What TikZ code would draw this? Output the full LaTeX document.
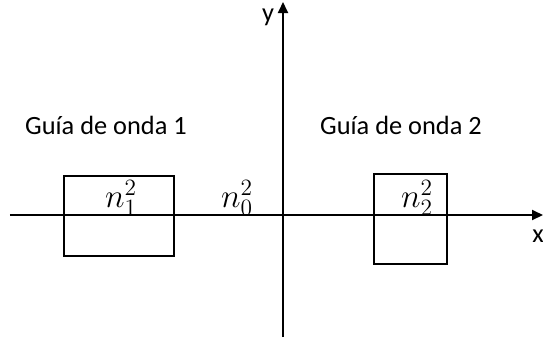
\RequirePackage{fix-cm}
\documentclass[tikz,border=0pt]{standalone}
\usepackage{fontspec}
\setmainfont{Carlito}
\usetikzlibrary{arrows.meta,positioning}

\begin{document}
\begin{tikzpicture}[
  >={Triangle[length=2.2mm,width=2mm]}, line width=1.1pt,
  guide/.style={draw,line width=1.1pt,inner sep=0pt},
  lbl/.style={font=\fontsize{15}{18}\selectfont},
  idx/.style={font=\fontsize{19}{22}\selectfont,inner sep=0pt}]
  \useasboundingbox (-5.66,-2.56) rectangle (5.2,4.3);
  % axes
  \coordinate (xl) at (-5.46,0);
  \coordinate (xr) at (5.2,0);
  \coordinate (yb) at (0,-2.44);
  \coordinate (yt) at (0,4.26);
  \draw[->] (xl) -- (xr);
  \draw[->] (yb) -- (yt);
  \node[lbl] (xlab) at (5.1,-0.42) {x};
  \node[lbl] (ylab) at (-0.3,3.96) {y};
  % waveguides
  \node[guide,minimum width=2.2cm,minimum height=1.6cm] (wg1) at (-3.28,-0.02) {};
  \node[guide,minimum width=1.46cm,minimum height=1.8cm] (wg2) at (2.55,-0.08) {};
  \node[idx] (n1) at (-3.24,0.34) {$n_1^2$};
  \node[idx] (n0) at (-0.92,0.34) {$n_0^2$};
  \node[idx] (n2) at (2.68,0.34) {$n_2^2$};
  \node[lbl] (g1) at (-3.54,1.8) {Guía de onda 1};
  \node[lbl] (g2) at (2.36,1.8) {Guía de onda 2};
\end{tikzpicture}
\end{document}
